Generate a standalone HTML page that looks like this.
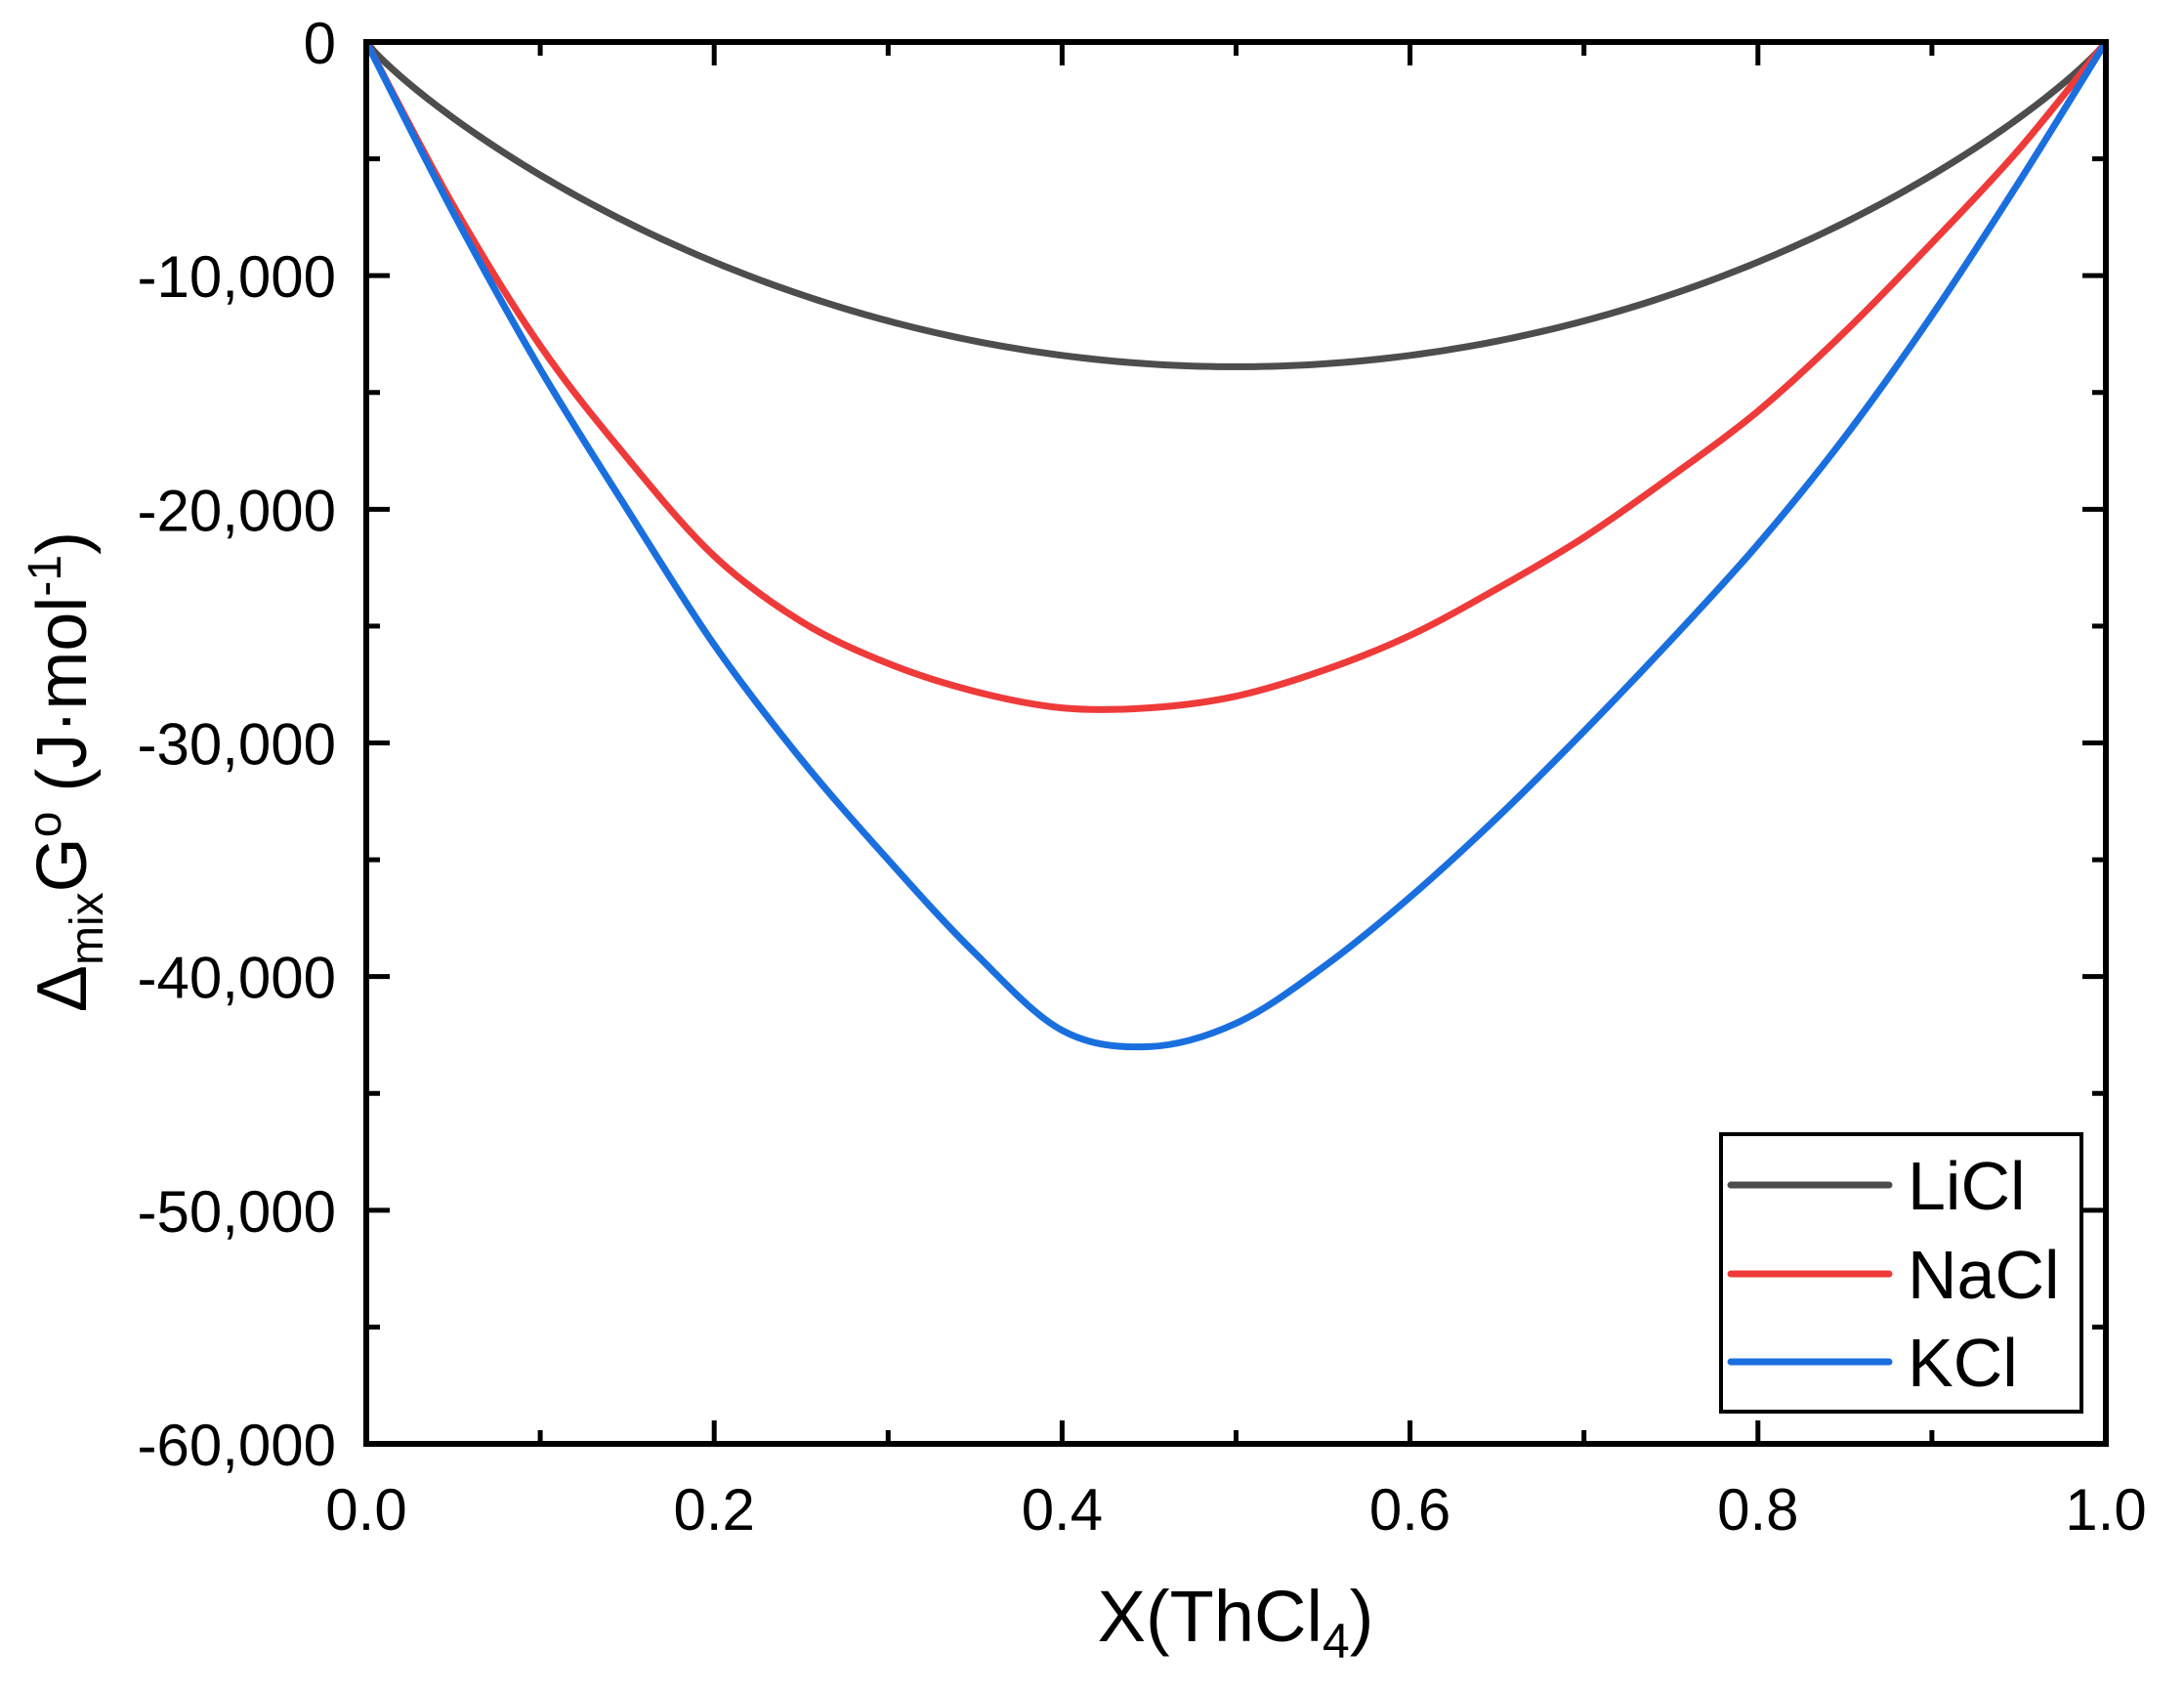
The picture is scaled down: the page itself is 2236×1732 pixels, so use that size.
<!DOCTYPE html>
<html><head><meta charset="utf-8"><style>body{margin:0;background:#fff}svg{display:block}</style></head>
<body>
<svg id="s" width="2236" height="1732" viewBox="0 0 2236 1732" xmlns="http://www.w3.org/2000/svg" font-family="Liberation Sans, Arial, sans-serif">
<g id="curves" fill="none" stroke-width="7" stroke-linejoin="round"></g>
<rect x="375" y="43" width="1781" height="1435" fill="none" stroke="#000" stroke-width="6"/>
<g id="ticks" stroke="#000" stroke-width="5"></g>
<g id="labels" font-size="60" fill="#000"></g>
<text x="1265" y="1680" font-size="74" text-anchor="middle">X(ThCl<tspan font-size="50" dy="17">4</tspan><tspan dy="-17">)</tspan></text>
<text transform="translate(88,790) rotate(-90)" font-size="72" text-anchor="middle">Δ<tspan font-size="48" dy="17">mix</tspan><tspan dy="-17">G</tspan><tspan font-size="48" dy="-26">o</tspan><tspan dy="26"> (J·mol</tspan><tspan font-size="48" dy="-26">-1</tspan><tspan dy="26">)</tspan></text>
<rect x="1762" y="1161" width="369" height="284" fill="#fff" stroke="#000" stroke-width="4"/>
<g stroke-width="7" stroke-linecap="round">
<line x1="1772" y1="1213" x2="1934" y2="1213" stroke="#4d4d4d"/>
<line x1="1772" y1="1304" x2="1934" y2="1304" stroke="#ef3a3a"/>
<line x1="1772" y1="1394" x2="1934" y2="1394" stroke="#1a6fdf"/>
</g>
<g font-size="70" fill="#000">
<text x="1953" y="1238">LiCl</text>
<text x="1953" y="1329">NaCl</text>
<text x="1953" y="1419">KCl</text>
</g>
</svg>
<script>
var L=375,R=2156,T=43,B=1478,W=R-L,H=B-T;
function px(x){return L+x*W} function py(g){return T+(-g)/60000*H}
var ns="http://www.w3.org/2000/svg";
function el(p,n,a,t){var e=document.createElementNS(ns,n);for(var k in a)e.setAttribute(k,a[k]);if(t!=null)e.textContent=t;p.appendChild(e);return e}
var tk=document.getElementById('ticks'),lb=document.getElementById('labels');
for(var i=0;i<=10;i++){var x=px(i/10),len=i%2?14:24;
 el(tk,'line',{x1:x,y1:B,x2:x,y2:B-len});el(tk,'line',{x1:x,y1:T,x2:x,y2:T+len});
 if(i%2==0)el(lb,'text',{x:x,y:1566,'text-anchor':'middle'},(i/10).toFixed(1));}
for(var j=0;j<=12;j++){var y=T+j/12*H,len=j%2?14:24;
 el(tk,'line',{x1:L,y1:y,x2:L+len,y2:y});el(tk,'line',{x1:R,y1:y,x2:R-len,y2:y});
 if(j%2==0){var v=j/2*10000;el(lb,'text',{x:344,y:y+22,'text-anchor':'end'},v==0?'0':'-'+(v/1000)+',000');}}
function lic(x){if(x<=0||x>=1)return 0;var RT=9146;return RT*(x*Math.log(x)+(1-x)*Math.log(1-x))-30240*x*(1-x);}
var li=[];for(var k=0;k<=200;k++){var x=k/200;li.push([x,lic(x)]);}
function mk(a){return a.map(function(g,i){return[i*0.05,g]})}
var na=mk([0,-7000,-13000,-17800,-22000,-24800,-26600,-27800,-28500,-28500,-28000,-26900,-25400,-23400,-21200,-18600,-15800,-12400,-8600,-4600,0]);
var kc=mk([0,-7300,-14000,-20000,-25800,-30700,-35000,-39000,-42300,-43000,-42000,-39600,-36600,-33200,-29500,-25600,-21500,-16900,-11700,-6000,0]);
function path(p){var q=p.map(function(a){return[px(a[0]),py(a[1])]});var d='M'+q[0][0]+','+q[0][1];
 for(var i=0;i<q.length-1;i++){var p0=q[i-1]||q[i],p1=q[i],p2=q[i+1],p3=q[i+2]||q[i+1];
 d+=' C'+(p1[0]+(p2[0]-p0[0])/6)+','+(p1[1]+(p2[1]-p0[1])/6)+' '+(p2[0]-(p3[0]-p1[0])/6)+','+(p2[1]-(p3[1]-p1[1])/6)+' '+p2[0]+','+p2[1];}return d;}
var cg=document.getElementById('curves');
el(cg,'path',{d:path(li),stroke:'#4d4d4d'});
el(cg,'path',{d:path(na),stroke:'#ef3a3a'});
el(cg,'path',{d:path(kc),stroke:'#1a6fdf'});
</script>
</body></html>
